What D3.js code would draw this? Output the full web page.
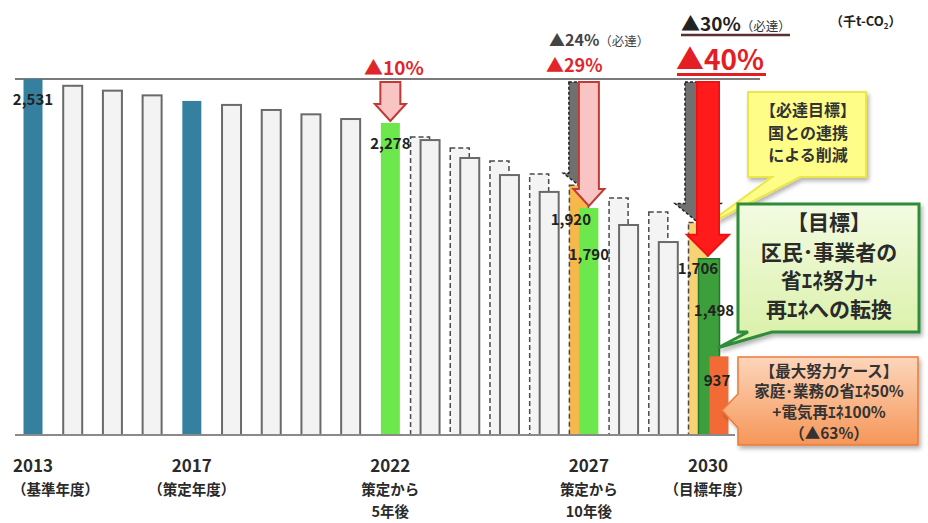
<!DOCTYPE html>
<html><head><meta charset="utf-8">
<script src="https://cdn.jsdelivr.net/npm/d3@7"></script>
<style>
body{margin:0;background:#fff}
svg{display:block}
text{font-family:"Noto Sans CJK JP","Noto Sans",sans-serif;font-weight:700}
</style>
</head><body>
<svg id="chart" width="928" height="523"></svg>
<script>
// ---------------- data ----------------
const years = [2013,2014,2015,2016,2017,2018,2019,2020,2021,2022,2023,2024,2025,2026,2027,2028,2029,2030];
const emissions = [2531,2492,2464,2437,2405,2382,2353,2328,2301,2278,2180,2077,1979,1882,1790,1692,1594,1498];
const mandatoryYears = [2023,2024,2025,2026,2027,2028,2029,2030];
const mandatory = [2198,2134,2060,1985,1920,1847,1767,1706];
const maxEffortYear = 2030;
const maxEffort = 937;
const baseValue = 2531;
const labelledActual = [2013,2022,2027,2030];
const labelledMandatory = [2027,2030];
const reductionArrows = [
  {year:2022, series:"actual", kind:"pink"},
  {year:2027, series:"mandatory", kind:"gray"},
  {year:2027, series:"actual", kind:"pink"},
  {year:2030, series:"mandatory", kind:"gray"},
  {year:2030, series:"actual", kind:"red"}
];
const xLabels = [
  {year:2013, lines:["2013","（基準年度）"]},
  {year:2017, lines:["2017","（策定年度）"]},
  {year:2022, lines:["2022","策定から","5年後"]},
  {year:2027, lines:["2027","策定から","10年後"]},
  {year:2030, lines:["2030","（目標年度）"]}
];
const unitLabel = "（千t-CO";

// ---------------- setup ----------------
const svg = d3.select("#chart");
const x = d3.scalePoint().domain(years).range([33, 708]);
const y = d3.scaleLinear().domain([485, 2531]).range([435, 79]);
const baseY = y.range()[0];
const BW = 19, OFF_M = -10, OFF_X = 11;
const actualVal = yr => emissions[years.indexOf(yr)];
const mandVal = yr => mandatory[mandatoryYears.indexOf(yr)];

const defs = svg.append("defs");
const sh = defs.append("filter").attr("id","shadow").attr("x","-10%").attr("y","-10%").attr("width","130%").attr("height","130%");
sh.append("feDropShadow").attr("dx",2).attr("dy",3).attr("stdDeviation",2).attr("flood-color","#000").attr("flood-opacity",0.3);
const gGreen = defs.append("linearGradient").attr("id","gGreen").attr("x1",0).attr("y1",0).attr("x2",0).attr("y2",1);
gGreen.append("stop").attr("offset","0%").attr("stop-color","#f3fbe2");
gGreen.append("stop").attr("offset","100%").attr("stop-color","#d9f0a6");
const gOr = defs.append("linearGradient").attr("id","gOr").attr("x1",0).attr("y1",0).attr("x2",0).attr("y2",1);
gOr.append("stop").attr("offset","0%").attr("stop-color","#fcd6bb");
gOr.append("stop").attr("offset","100%").attr("stop-color","#f69658");

// reference line
svg.append("line").attr("x1",15).attr("x2",760).attr("y1",y(baseValue)).attr("y2",y(baseValue))
  .attr("stroke","#7a7a7a").attr("stroke-width",2);

// mandatory (dashed) bars
const mData = mandatoryYears.map((yr,i)=>({year:yr, value:mandatory[i]}));
svg.append("g").selectAll("rect").data(mData).join("rect")
  .attr("x", d=>x(d.year)+OFF_M-BW/2).attr("y", d=>y(d.value))
  .attr("width", BW).attr("height", d=>baseY-y(d.value))
  .attr("fill", d=> d.year===2027?"#f6b84a": d.year===2030?"#f8d273":"#f4f4f4")
  .attr("stroke","#4a4a4a").attr("stroke-width",1.5).attr("stroke-dasharray","5,3");

// actual bars
const fillFor = yr => (yr===2013||yr===2017)?"#36809f":(yr===2022||yr===2027)?"#6de84c":yr===2030?"#3d9f3b":"#f3f3f3";
const aData = years.map((yr,i)=>({year:yr, value:emissions[i]}));
svg.append("g").selectAll("rect").data(aData).join("rect")
  .attr("x", d=>x(d.year)-BW/2).attr("y", d=>y(d.value))
  .attr("width", d=> d.year===2030?BW+2:BW).attr("height", d=>baseY-y(d.value))
  .attr("fill", d=>fillFor(d.year))
  .attr("stroke", d=> fillFor(d.year)==="#f3f3f3"?"#6a6a6a": d.year===2030?"#23782c":"none")
  .attr("stroke-width", d=> d.year===2030?1.5:2);

// max effort bar
svg.append("rect").attr("x", x(maxEffortYear)+OFF_X-BW/2).attr("y", y(maxEffort))
  .attr("width", BW).attr("height", baseY-y(maxEffort)).attr("fill","#f26b36");

svg.append("line").attr("x1",15).attr("x2",735).attr("y1",baseY).attr("y2",baseY)
  .attr("stroke","#8a8a8a").attr("stroke-width",2);

// ---------------- callouts ----------------
const ytip = [x(2030)+OFF_M+6, y(mandVal(2030))+4];
svg.append("path").attr("filter","url(#shadow)")
  .attr("d", `M748,92 H866 V177 H800 L${ytip[0]},${ytip[1]} L772,177 H748 Z`)
  .attr("fill","#fdfd88").attr("stroke","#ece64a").attr("stroke-width",2);
const gtip = [x(2030)+10, y(actualVal(2030))+89];
svg.append("path").attr("filter","url(#shadow)")
  .attr("d", `M738,204 H919 V332 H772 L${gtip[0]},${gtip[1]} L748,332 H738 Z`)
  .attr("fill","url(#gGreen)").attr("stroke","#2f8c3b").attr("stroke-width",3);
const otip = [x(maxEffortYear)+OFF_X+3, y(maxEffort)+54];
svg.append("path").attr("filter","url(#shadow)")
  .attr("d", `M738,357 H918 V445 H738 V428 L${otip[0]},${otip[1]} L738,394 Z`)
  .attr("fill","url(#gOr)").attr("stroke","#ea7b3a").attr("stroke-width",1.5);

function multiText(cx, ys, lines, size, color){
  lines.forEach((t,i)=>svg.append("text").attr("x",cx).attr("y",ys[i]).attr("text-anchor","middle")
    .attr("font-size",size).attr("fill",color).text(t));
}
multiText(808,[116,139,161],["【必達目標】","国との連携","による削減"],16,"#333");
multiText(829,[230,260,288,317],["【目標】","区民･事業者の","省ｴﾈ努力+","再ｴﾈへの転換"],21,"#2a2a2a");
multiText(829,[377,397,418,439],["【最大努力ケース】","家庭･業務の省ｴﾈ50%","+電気再ｴﾈ100%","（▲63%）"],15.5,"#333");

// ---------------- arrows ----------------
function arrowPath(cx, y0, y1, sw, hw, hh){
  return `M${cx-sw/2},${y0} H${cx+sw/2} V${y1-hh} H${cx+hw/2} L${cx},${y1} L${cx-hw/2},${y1-hh} H${cx-sw/2} Z`;
}
const arrowStyle = {
  pink:{fill:"#f9c4c4", stroke:"#c23a35", sw:20, hw:31, hh:17, dash:null, off:0, gap:2},
  red:{fill:"#ff1b1b", stroke:"#f01010", sw:22, hw:42, hh:21, dash:null, off:0, gap:3},
  gray:{fill:"#707070", stroke:"#222", sw:20, hw:31, hh:12, dash:"3,2", off:OFF_M, gap:0}
};
reductionArrows.slice().sort((a,b)=> (a.kind==="gray"?0:1)-(b.kind==="gray"?0:1)).forEach(a=>{
  const st = Object.assign({}, arrowStyle[a.kind]);
  if(a.kind==="gray" && a.year===2030){ st.sw=26; st.hw=46; st.hh=19; }
  const v = a.series==="actual"? actualVal(a.year) : mandVal(a.year);
  const cx = x(a.year) + st.off;
  svg.append("path").attr("d", arrowPath(cx, y(baseValue)+3, y(v)-st.gap, st.sw, st.hw, st.hh))
    .attr("fill", st.fill).attr("stroke", st.stroke).attr("stroke-width", a.kind==="gray"?1.5:2)
    .attr("stroke-dasharray", st.dash);
});

// ---------------- value labels ----------------
const fmt = d3.format(",");
const lblG = svg.append("g").attr("font-size",15).attr("fill","#222");
labelledActual.forEach(yr=>{
  const v = actualVal(yr);
  const dx = yr===2030?6:0, dy = yr===2030?57:yr===2027?52:26;
  lblG.append("text").attr("x", x(yr)+dx).attr("y", y(v)+dy).attr("text-anchor","middle").text(fmt(v));
});
labelledMandatory.forEach(yr=>{
  const v = mandVal(yr);
  lblG.append("text").attr("x", x(yr)+OFF_M-(yr===2027?8:0)).attr("y", y(v)+(yr===2027?40:51))
    .attr("text-anchor","middle").text(fmt(v));
});
lblG.append("text").attr("x", x(maxEffortYear)+OFF_X-2).attr("y", y(maxEffort)+30).attr("text-anchor","middle").text(fmt(maxEffort));

// ---------------- percentage annotations ----------------
function pct(xs, yb, main, mainSize, color, sub, subSize, subColor){
  const t = svg.append("text").attr("x",xs).attr("y",yb).attr("fill",color);
  t.append("tspan").attr("font-size",mainSize).text(main);
  if(sub) t.append("tspan").attr("font-size",subSize).attr("fill",subColor||color).attr("font-weight",400).text(sub);
  return t;
}
pct(364, 75, "▲10%", 19, "#e0262b");
pct(546, 72, "▲29%", 18, "#e0262b");
pct(549, 46, "▲24%", 16, "#444", "（必達）", 12.5, "#444");
pct(681, 31, "▲30%", 19, "#222", "（必達）", 12.5, "#333");
svg.append("line").attr("x1",681).attr("x2",790).attr("y1",35).attr("y2",35).attr("stroke","#5a3030").attr("stroke-width",2.5);
pct(676, 70, "▲40%", 28, "#e31e24");
svg.append("line").attr("x1",677).attr("x2",766).attr("y1",74.5).attr("y2",74.5).attr("stroke","#e31e24").attr("stroke-width",3);
const ut = svg.append("text").attr("x",830).attr("y",26).attr("font-size",13).attr("fill","#222").attr("font-weight",400);
ut.append("tspan").text(unitLabel);
ut.append("tspan").attr("font-size",8).attr("dy",3).text("2");
ut.append("tspan").attr("dy",-3).text("）");

// ---------------- x labels ----------------
const xg = svg.append("g").attr("fill","#2a2a2a");
xLabels.forEach(l=>{
  l.lines.forEach((t,i)=>{
    const el = xg.append("text").attr("y", 472 + i*22.5).attr("text-anchor","middle")
      .attr("font-size", i===0?17:14.5).text(t);
    const w = el.node().getComputedTextLength();
    el.attr("x", Math.max(x(l.year), 12 + w/2));
  });
});
</script>
</body></html>
